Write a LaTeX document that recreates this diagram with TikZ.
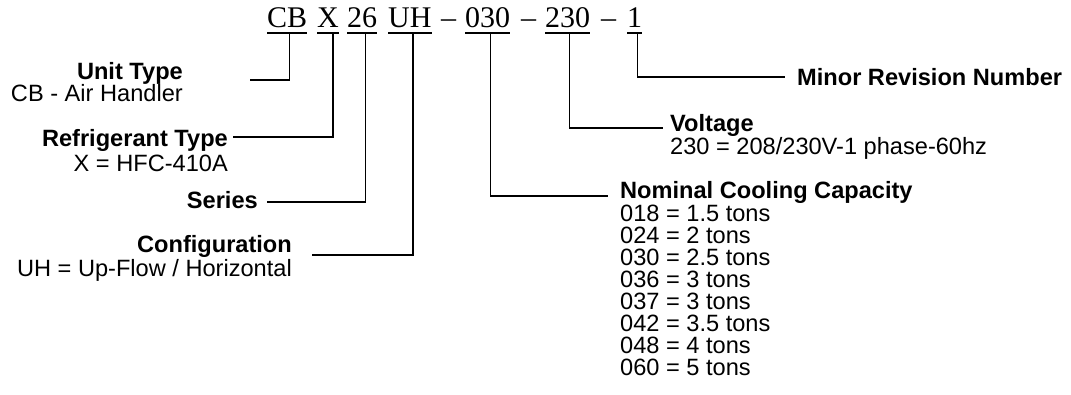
\documentclass[tikz,border=0pt]{standalone}
\usepackage{fontspec}
\setmainfont{Liberation Sans}
\newfontfamily\codefont{Liberation Serif}
\usetikzlibrary{calc}
\tikzset{
  part/.style={font=\codefont\fontsize{30}{30}\selectfont, inner sep=0pt, anchor=base west},
  head/.style={font=\bfseries\fontsize{23.6}{24}\selectfont, inner sep=0pt},
  desc/.style={font=\fontsize{23.6}{24}\selectfont, inner sep=0pt},
  lead/.style={line width=1.4pt},
}

\begin{document}
\begin{tikzpicture}[x=1pt, y=-1pt]
\useasboundingbox (0,0) rectangle (1071,395);
% model number
\node[part] (cb)   at (267,28) {CB};
\node[part] (rx)   at (317,28) {X};
\node[part] (sr)   at (347,28) {26};
\node[part] (uh)   at (388,28) {UH};
\node[part] (d1)   at (441,28) {\textendash};
\node[part] (cap)  at (465,28) {030};
\node[part] (d2)   at (521,28) {\textendash};
\node[part] (volt) at (545,28) {230};
\node[part] (d3)   at (601,28) {\textendash};
\node[part] (rev)  at (627,28) {1};
\foreach \p in {cb,rx,sr,uh,cap,volt,rev}
  \draw[line width=1.2pt] ([yshift=-5pt]\p.base west) -- ([yshift=-5pt]\p.base east);

% labels on the left
\node[head, anchor=base east] (unittype) at (183,80)  {Unit Type};
\node[desc, anchor=base east] (unitdesc) at (183,102) {CB - Air Handler};
\node[head, anchor=base east] (reftype)  at (228,147) {Refrigerant Type};
\node[desc, anchor=base east] (refdesc)  at (228,172) {X = HFC-410A};
\node[head, anchor=base east] (series)   at (258,209) {Series};
\node[head, anchor=base east] (config)   at (292,253) {Configuration};
\node[desc, anchor=base east] (confdesc) at (292,277) {UH = Up-Flow / Horizontal};

% labels on the right
\node[head, anchor=base west] (minrev)   at (797,86)  {Minor Revision Number};
\node[head, anchor=base west] (voltage)  at (670,132) {Voltage};
\node[desc, anchor=base west] (voltdesc) at (670,155) {230 = 208/230V-1 phase-60hz};
\node[head, anchor=base west] (nomcap)   at (620,199) {Nominal Cooling Capacity};
\foreach \c/\t [count=\i] in {018/1.5,024/2,030/2.5,036/3,037/3,042/3.5,048/4,060/5}
  \node[desc, anchor=base west] (capdesc\i) at (620,200.1+\i*21.9) {\c\ = \t\ tons};

% leaders
\draw[lead] ([shift={(2,5)}]cb.base)   |- ($(unittype.base east)+(67,0)$);
\draw[lead] ([shift={(5,5)}]rx.base)   |- ($(reftype.base east)+(5,-10)$);
\draw[lead] ([shift={(3,5)}]sr.base)   |- ($(series.base east)+(9,-7)$);
\draw[lead] ([shift={(3,5)}]uh.base)   |- ($(config.base east)+(20,2)$);
\draw[lead] ([shift={(3,5)}]cap.base)  |- ($(nomcap.base west)+(-12,-3)$);
\draw[lead] ([shift={(2,5)}]volt.base) |- ($(voltage.base west)+(-7,-4)$);
\draw[lead] ([shift={(3,5)}]rev.base)  |- ($(minrev.base west)+(-12,-9)$);
\end{tikzpicture}
\end{document}
